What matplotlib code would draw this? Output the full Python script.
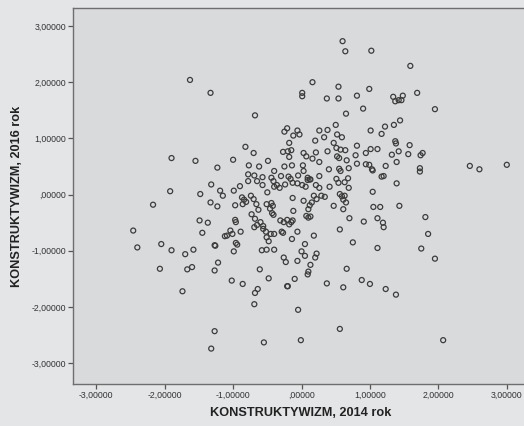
import matplotlib.pyplot as plt
from matplotlib.ticker import FuncFormatter

# KONSTRUKTYWIZM - standaryzowane wyniki, 2014 vs 2016
x_2014 = [
    -1.63, -1.33,
    0.60, 0.64, 1.02, 0.16, 0.01, 0.01, 0.54, 0.99, 0.37, 0.54, 0.81, 0.90, 0.65, -0.68, 0.50,
    1.59, 1.69, 1.34, 1.37, 1.42, 1.46, 1.48, 1.95, 1.44, 1.35, 1.22,
    -1.90, -1.55, -1.23, -1.32, -1.19, -1.15, -1.92, -1.48, -1.33, -1.23, -2.17, -1.49,
    -1.37, -1.45, -2.46, -1.12, -2.40, -2.05, -1.90, -1.70, -1.58, -1.27, -1.26,
    1.01, 1.17, 1.37, 1.38, 1.58, 1.01, 1.11, 1.42, 1.32, 1.56, 1.74, 1.77, 1.39, 1.23,
    0.99, 1.03, 1.04, 1.73, 1.73, 1.17, 1.20, 1.39, 2.46, 2.60, 3.00, 1.04, 1.05, 1.15,
    1.43, 1.81, 1.11, 1.19, 1.20, 1.85, 1.11, 1.75,
    -2.07, -1.74, -1.67, -1.60, -1.27, -1.22, -1.27, -1.32,
    -0.26, -0.23, -0.06, 0.05, 0.20, 0.13, 0.10, 0.09, -0.61, -0.48, -0.10, -0.21, -0.20,
    -1.02, -0.86, -0.64, -0.68, -0.69, -0.05, -0.55, -0.01, 0.66, 0.37, 0.61, 0.88, 1.00, 0.56,
    1.23, 1.38, 1.95, 2.07,
    -0.25, -0.21, -0.06, -0.03, -0.12, 0.26, 0.38, 0.52, 0.59, 0.33, 0.20, -0.18, -0.82,
    -0.70, -0.27, -0.20, -0.15, -0.18, 0.03, 0.07, 0.21, 0.16, 0.26, 0.38, 0.47, 0.51,
    0.57, 0.64, 0.81, 0.52, 0.55, 0.66, 0.79, 0.94, -1.00, -0.49, -0.77, -0.62, -0.25,
    -0.14, 0.02, -0.40, 0.03, 0.40, 0.55, 0.57, 0.69, 0.81, 0.94, -0.78, -0.69, -0.57,
    -0.44, -0.30, -0.19, -0.16, -0.05, 0.09, 0.13, 0.26, 0.51, 0.68, -0.90, -0.99, -0.78,
    -0.65, -0.57, -0.41, -0.36, -0.32, -0.40, -0.50, -0.24, -0.13, -0.06, 0.01, 0.09, 0.12,
    0.06, 0.21, 0.26, 0.41, 0.54, 0.63, 0.69, 0.56, 0.59, 0.63, 0.29, 0.34, 0.22, -0.13,
    0.03, -0.87, -0.84, -0.81, -0.86, -0.74, -0.70, -0.97, -0.66, -0.51, -0.44, -0.42,
    -0.46, -0.63, -0.73, -0.43, -0.41, -0.12, 0.12, 0.15, 0.10, 0.18, 0.47, 0.61, 0.65,
    0.61, 0.07, 0.10, 0.13, 0.70, 0.91, -0.97, -0.96, -0.68, -0.65, -0.69, -0.60, -0.56,
    -0.31, -0.26, -0.21, -0.15, -0.13, -0.18, -1.04, -1.09, -1.01, -0.89, -0.56, -0.52,
    -0.45, -0.51, -0.48, -0.40, -0.29, -0.27, -0.06, 0.18, 0.56, -0.96, -0.94, -0.99,
    -0.58, -0.51, -0.40, -0.14, 0.05, 0.00, 0.22, 0.75,
]
y_2016 = [
    2.04, 1.81,
    2.73, 2.55, 2.56, 2.00, 1.81, 1.75, 1.92, 1.88, 1.71, 1.71, 1.76, 1.53, 1.44, 1.41, 1.24,
    2.29, 1.81, 1.74, 1.66, 1.68, 1.68, 1.76, 1.52, 1.32, 1.24, 1.21,
    0.65, 0.60, 0.48, 0.18, 0.07, -0.02, 0.06, 0.01, -0.14, -0.21, -0.18, -0.46,
    -0.50, -0.68, -0.64, -0.74, -0.94, -0.88, -0.99, -1.06, -0.98, -0.90, -0.91,
    1.14, 1.08, 0.95, 0.91, 0.88, 0.81, 0.81, 0.77, 0.71, 0.72, 0.70, 0.74, 0.58, 0.51,
    0.53, 0.45, 0.43, 0.47, 0.41, 0.32, 0.33, 0.20, 0.51, 0.45, 0.53, 0.05, -0.22, -0.22,
    -0.20, -0.40, -0.42, -0.50, -0.58, -0.70, -0.95, -0.96,
    -1.32, -1.72, -1.33, -1.29, -1.35, -1.21, -2.43, -2.74,
    -1.12, -1.20, -1.18, -1.09, -1.12, -1.25, -1.37, -1.42, -1.33, -1.49, -1.50, -1.63, -1.63,
    -1.53, -1.59, -1.68, -1.75, -1.95, -2.05, -2.63, -2.59, -1.32, -1.58, -1.65, -1.52, -1.59, -2.39,
    -1.68, -1.78, -1.14, -2.59,
    1.12, 1.18, 1.14, 1.07, 1.05, 1.14, 1.15, 1.07, 1.02, 1.02, 0.96, 0.92, 0.85,
    0.74, 0.76, 0.77, 0.79, 0.67, 0.74, 0.68, 0.75, 0.64, 0.58, 0.77, 0.92, 0.83,
    0.80, 0.79, 0.87, 0.68, 0.65, 0.61, 0.70, 0.74, 0.62, 0.60, 0.52, 0.50, 0.50,
    0.52, 0.52, 0.42, 0.42, 0.45, 0.46, 0.42, 0.47, 0.55, 0.54, 0.36, 0.34, 0.31,
    0.30, 0.33, 0.32, 0.28, 0.34, 0.30, 0.27, 0.33, 0.28, 0.29, 0.15, 0.07, 0.24,
    0.24, 0.17, 0.24, 0.17, 0.12, 0.14, 0.04, 0.18, 0.21, 0.20, 0.17, 0.26, 0.27,
    0.14, 0.17, 0.12, 0.14, 0.21, 0.22, 0.12, 0.01, -0.03, -0.02, -0.02, -0.04, -0.08, -0.06,
    -0.11, -0.05, -0.09, -0.13, -0.17, -0.02, -0.08, -0.19, -0.17, -0.17, -0.15, -0.20,
    -0.25, -0.27, -0.35, -0.33, -0.36, -0.29, -0.19, -0.14, -0.26, -0.02, -0.20, -0.09, -0.14,
    -0.26, -0.38, -0.41, -0.39, -0.42, -0.48, -0.45, -0.49, -0.43, -0.54, -0.58, -0.49, -0.56,
    -0.46, -0.49, -0.45, -0.49, -0.46, -0.53, -0.64, -0.73, -0.70, -0.66, -0.61, -0.66,
    -0.70, -0.76, -0.83, -0.70, -0.66, -0.68, -0.66, -0.73, -0.62, -0.86, -0.89, -1.01,
    -0.99, -0.98, -0.98, -0.79, -0.88, -1.01, -1.05, -0.85,
]

xticks = [-3, -2, -1, 0, 1, 2, 3]
yticks = [-3, -2, -1, 0, 1, 2, 3]


def spss_fmt(v, pos):
    # SPSS: przecinek dziesietny, bez zera wiodacego
    s = f"{v:.5f}".replace('.', ',')
    if s.startswith('0,'):
        s = s[1:]
    elif s.startswith('-0,'):
        s = '-' + s[2:]
    return s


plt.rcParams['font.family'] = ['Liberation Sans', 'DejaVu Sans']

fig = plt.figure(figsize=(5.24, 4.26), dpi=100, facecolor='#e4e5e7')
W, H = 524, 426
# obszar wykresu wychodzi poza prawa krawedz (obraz przyciety)
ax = fig.add_axes([73 / W, 1 - 384 / H, (528 - 73) / W, (384 - 8) / H])
ax.set_facecolor('#d9dadc')

ax.scatter(x_2014, y_2016, s=13, facecolors='none', edgecolors='#3c3c3c',
           linewidths=0.9, zorder=3)

ax.set_xlim(-3.34, 3.31)
ax.set_ylim(-3.37, 3.32)
ax.set_xticks(xticks)
ax.set_yticks(yticks)
ax.xaxis.set_major_formatter(FuncFormatter(spss_fmt))
ax.yaxis.set_major_formatter(FuncFormatter(spss_fmt))
ax.tick_params(axis='both', direction='out', length=3.5, width=0.9, color='#555555',
               labelsize=6.3, labelcolor='#333333', pad=1.5)

for side in ['left', 'bottom', 'top']:
    ax.spines[side].set_color('#6e6e6e')
    ax.spines[side].set_linewidth(1.0)
ax.spines['right'].set_visible(False)

ax.set_xlabel('KONSTRUKTYWIZM, 2014 rok', fontsize=9.2, fontweight='bold', color='#222222', labelpad=5)
ax.set_ylabel('KONSTRUKTYWIZM, 2016 rok', fontsize=9.2, fontweight='bold', color='#222222', labelpad=6)

fig.savefig('out.png', dpi=100, facecolor=fig.get_facecolor())
